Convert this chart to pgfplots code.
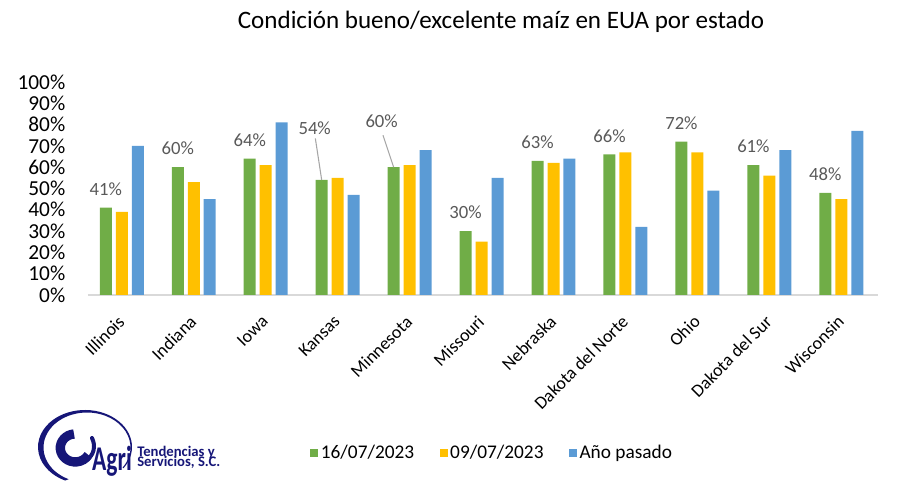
\documentclass[border=0pt]{standalone}
\usepackage{pgfplots}
\pgfplotsset{compat=1.18}
\usepackage{pgfplotstable}
\usepackage{fontspec}
\setmainfont{Carlito}
\definecolor{cg}{HTML}{70AD47}
\definecolor{cy}{HTML}{FFC000}
\definecolor{cb}{HTML}{5B9BD5}
\definecolor{axgray}{HTML}{D9D9D9}
\definecolor{lblgray}{HTML}{595959}
\definecolor{navy}{RGB}{22,22,120}
\pgfplotstableread{
x g y b dx dy
0 41 39 70 0 14
1 60 53 45 0 14
2 64 61 81 0 14
3 54 55 47 -5.25 39
4 60 61 68 -9 34.5
5 30 25 55 0 14
6 63 62 64 0 14
7 66 67 32 0 14
8 72 67 49 0 14
9 61 56 68 0 14
10 48 45 77 0 14
}\datatable
\begin{document}
\begin{tikzpicture}
\path[use as bounding box] (-66pt,-152.25pt) rectangle (612pt,221.25pt);
\begin{axis}[
  scale only axis,
  width=592.5pt, height=159.75pt,
  ybar, bar width=0.167,
  xmin=-0.47, xmax=10.51, ymin=0, ymax=100,
  separate axis lines,
  axis x line*=bottom, axis y line*=left,
  x axis line style={draw=axgray, line width=1.2pt, -},
  y axis line style={draw=none},
  xtick={0,...,10},
  xticklabels={Illinois,Indiana,Iowa,Kansas,Minnesota,Missouri,Nebraska,Dakota del Norte,Ohio,Dakota del Sur,Wisconsin},
  xticklabel style={xshift=-3.75pt, yshift=-5.25pt, rotate=45, anchor=north east, font=\fontsize{13.5}{14}\selectfont},
  ytick={0,10,...,100},
  yticklabel={\fontsize{16}{17}\selectfont\pgfmathprintnumber{\tick}\%},
  yticklabel style={anchor=east, xshift=-13.5pt},
  /pgf/number format/assume math mode=true,
  tick style={draw=none},
  legend columns=3,
  legend style={draw=none, at={(0.512,-0.742)}, anchor=center, font=\fontsize{14.5}{15}\selectfont,
    /tikz/every even column/.append style={column sep=17pt}},
  legend image code/.code={\fill[#1] (0pt,-3pt) rectangle (6pt,3pt);},
]
\addplot[fill=cg, draw=none, bar shift=-0.222,
  visualization depends on={\thisrow{dx} \as \dx},
  visualization depends on={\thisrow{dy} \as \dy},
  nodes near coords={\pgfmathprintnumber{\pgfplotspointmeta}\%},
  nodes near coords style={anchor=center, xshift=\dx pt, yshift=\dy pt, text=lblgray, font=\fontsize{14}{15}\selectfont, /pgf/number format/assume math mode=true},
] table[x=x, y=g] {\datatable};
\addlegendentry{16/07/2023}
\addplot[fill=cy, draw=none, bar shift=0] table[x=x, y=y] {\datatable};
\addlegendentry{09/07/2023}
\addplot[fill=cb, draw=none, bar shift=0.222] table[x=x, y=b] {\datatable};
\addlegendentry{Año pasado}
\draw[gray!70, line width=0.8pt] (axis cs:2.69,73.5) -- (axis cs:2.778,54);
\draw[gray!70, line width=0.8pt] (axis cs:3.63,75) -- (axis cs:3.778,60);
\end{axis}
\node[font=\fontsize{18.8}{20}\selectfont] at (309.75pt,204.75pt) {Condición bueno/excelente maíz en EUA por estado};
% logo (pixel coordinates, origin at bottom-left of the picture)
\begin{scope}[x=0.75pt, y=0.75pt, shift={(-66pt,-152.25pt)}]
  \fill[navy] ([shift={(85,51)}]-35:47 and 37) arc[start angle=-35, end angle=245, x radius=47, y radius=37]
     -- ([shift={(87,50.5)}]245:43.5 and 35) arc[start angle=245, end angle=-35, x radius=43.5, y radius=35] -- cycle;
  \draw[navy, line width=7pt] (74,64) arc[start angle=95, end angle=330, x radius=15, y radius=14];
  \draw[navy, line width=3pt, line cap=round] (86,38) .. controls (94,42) and (96,52) .. (92,60);
  \node[navy, font=\bfseries\fontsize{26}{26}\selectfont, xscale=0.68, anchor=base west, inner sep=0pt] at (92,27) {Agri};
  \node[navy, font=\bfseries\fontsize{11}{12}\selectfont, anchor=base west, inner sep=0pt] at (137,41) {Tendencias y};
  \node[navy, font=\bfseries\fontsize{11}{12}\selectfont, anchor=base west, inner sep=0pt] at (137,31) {Servicios, S.C.};
\end{scope}
\end{tikzpicture}
\end{document}
